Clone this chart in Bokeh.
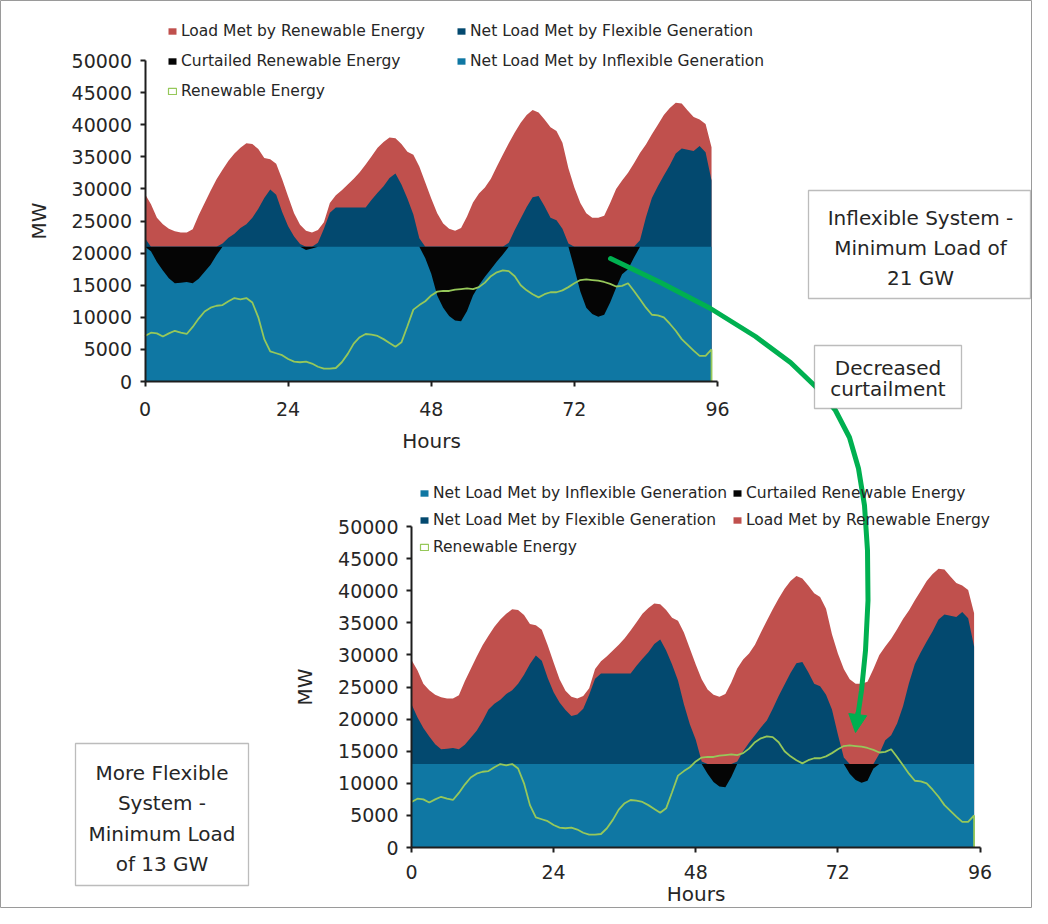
import numpy as np
from bokeh.plotting import figure
from bokeh.models import (Range1d, LinearAxis, FixedTicker, NumeralTickFormatter, Legend,
                          LegendItem, Label, BoxAnnotation, Arrow, NormalHead, ColumnDataSource)
from bokeh.embed import file_html
from bokeh.resources import INLINE

# ---------------- data ----------------
hours = list(range(96))
load_mw = [29200, 27600, 25500, 24500, 23800, 23400, 23200, 23200, 23700, 25900,
           27800, 29700, 31500, 33000, 34400, 35500, 36400, 37100, 37000, 36200,
           34800, 34600, 33900, 31500, 28800, 26200, 24400, 23500, 23200, 23600,
           24800, 27800, 29000, 29800, 30700, 31600, 32600, 33800, 35100, 36400,
           37300, 38000, 37900, 37000, 35800, 35300, 33500, 31000, 28500, 26200,
           24600, 23800, 23500, 23900, 25700, 27900, 29300, 30200, 31600, 33500,
           35300, 37100, 38800, 40300, 41500, 42300, 41900, 40800, 39600, 39000,
           37200, 33200, 30200, 27800, 26200, 25500, 25500, 25800, 27800, 30000,
           31300, 32500, 34000, 35600, 36900, 38500, 40000, 41500, 42600, 43400,
           43300, 42200, 41200, 40800, 40100, 36500]
net_load_mw = [22300, 20300, 18600, 17300, 16100, 15300, 15400, 15500, 15300, 16000,
               17100, 18200, 19700, 21500, 22400, 23000, 23900, 24500, 25500, 26900,
               28600, 29900, 29100, 26400, 24200, 22600, 21400, 20500, 20700, 21600,
               23800, 26300, 27100, 27100, 27100, 27100, 27100, 27100, 28300, 29400,
               30400, 31700, 32400, 30700, 28500, 26000, 22300, 19200, 16800, 13400,
               11500, 10200, 9500, 9400, 11000, 13400, 15000, 16300, 17500, 18700,
               19800, 21600, 23600, 25400, 27200, 28700, 28900, 27300, 25500, 25100,
               23800, 21500, 17600, 14000, 11500, 10500, 10100, 10400, 12300, 14600,
               16700, 17500, 19300, 22000, 25600, 28600, 30400, 32100, 33700, 35500,
               36300, 36100, 35900, 36700, 35700, 31300]
renewable_mw = [7100, 7600, 7500, 7000, 7500, 7900, 7600, 7400, 8500, 9800,
                10900, 11500, 11800, 11900, 12500, 13000, 12800, 13000, 12300, 10000,
                6600, 4700, 4400, 4100, 3500, 3100, 3000, 3100, 2800, 2300,
                2000, 2000, 2100, 3000, 4300, 5900, 6900, 7400, 7300, 7100,
                6600, 6000, 5400, 6100, 8600, 11200, 11900, 12500, 13400, 14000,
                14100, 14100, 14300, 14400, 14500, 14400, 14700, 15400, 16400, 17000,
                17300, 17200, 16400, 15000, 14200, 13600, 13100, 13600, 13900, 13900,
                14200, 14700, 15300, 15800, 15900, 15800, 15700, 15500, 15200, 14800,
                14900, 15300, 14100, 12800, 11500, 10400, 10300, 10000, 9000, 7900,
                6600, 5700, 4800, 4000, 4000, 5000]
min_load_inflexible = 21000
min_load_flexible = 13000
x_ticks = [0, 24, 48, 72, 96]
y_ticks = list(range(0, 50001, 5000))

# ---------------- styling / layout ----------------
FONT = "DejaVu Sans"
TXT = "#262626"
AXC = "#1e1e1e"
C_RED = "#C0504D"
C_FLEX = "#03496F"
C_INFLEX = "#0F77A3"
C_CURT = "#050505"
C_REN = "#96C85A"
C_ARROW = "#00B050"

W, H = 1032, 908
PX0, PY0 = 0, 0            # screen coordinates of the canvas corner
PX1, PY1 = PX0 + W, PY0 + H

p = figure(width=W, height=H, output_backend="svg", toolbar_location=None,
           x_range=Range1d(PX0, PX1), y_range=Range1d(PY1, PY0),
           x_axis_location=None, y_axis_location=None, title=None,
           min_border=0, min_border_left=0, min_border_right=0,
           min_border_top=0, min_border_bottom=0)
p.outline_line_color = "#9a9a9a"
p.background_fill_color = "white"
p.border_fill_color = "white"
p.xgrid.visible = False
p.ygrid.visible = False


def span(v_a, px_a, v_b, px_b, px_lo, px_hi):
    k = (v_b - v_a) / (px_b - px_a)
    return Range1d(v_a + (px_lo - px_a) * k, v_a + (px_hi - px_a) * k)


charts = {
    "top": dict(x0=144.5, x96=717.0, y0=381.0, y50=60.0, minload=min_load_inflexible,
                xl_standoff=15, xt_standoff=10,
                legend=[("red", 167, 31), ("curt", 167, 61), ("ren", 167, 91),
                        ("flex", 456, 31), ("inflex", 456, 61)]),
    "bot": dict(x0=411.0, x96=979.5, y0=847.0, y50=526.0, minload=min_load_flexible,
                xl_standoff=12, xt_standoff=0,
                legend=[("inflex", 419, 493), ("flex", 419, 520), ("ren", 419, 547),
                        ("curt", 732, 493), ("red", 732, 520)]),
}
labels = {
    "red": "Load Met by Renewable Energy",
    "flex": "Net Load Met by Flexible Generation",
    "curt": "Curtailed Renewable Energy",
    "inflex": "Net Load Met by Inflexible Generation",
    "ren": "Renewable Energy",
}

load = np.array(load_mw, dtype=float)
net = np.array(net_load_mw, dtype=float)
ren = np.array(renewable_mw, dtype=float)

for key, c in charts.items():
    xr, yr = key + "_x", key + "_y"
    p.extra_x_ranges[xr] = span(0, c["x0"], 96, c["x96"], PX0, PX1)
    p.extra_y_ranges[yr] = span(0, c["y0"], 50000, c["y50"], PY1, PY0)
    m = c["minload"]
    src = ColumnDataSource(dict(
        h=hours,
        zero=np.zeros(len(hours)),
        load=load,
        flex_top=np.maximum(net, m),
        minl=np.full(len(hours), float(m)),
        curt_bot=np.minimum(net, m),
    ))
    kw = dict(source=src, x_range_name=xr, y_range_name=yr)
    r_red = p.varea(x="h", y1="zero", y2="load", fill_color=C_RED, **kw)
    r_flex = p.varea(x="h", y1="zero", y2="flex_top", fill_color=C_FLEX, **kw)
    r_inflex = p.varea(x="h", y1="zero", y2="minl", fill_color=C_INFLEX, **kw)
    r_curt = p.varea(x="h", y1="curt_bot", y2="minl", fill_color=C_CURT, **kw)
    ren_src = ColumnDataSource(dict(h=hours + [hours[-1]], r=list(ren) + [0.0]))
    r_ren = p.line(x="h", y="r", source=ren_src, x_range_name=xr, y_range_name=yr,
                   line_color=C_REN, line_width=1.8)
    # legend key only (hollow square), no visible data
    key_src = ColumnDataSource(dict(l=[np.nan], r=[np.nan], t=[np.nan], b=[np.nan]))
    r_ren_key = p.quad(left="l", right="r", top="t", bottom="b", source=key_src,
                       x_range_name=xr, y_range_name=yr,
                       fill_color="white", line_color=C_REN, line_width=1.2)
    rmap = {"red": r_red, "flex": r_flex, "inflex": r_inflex, "curt": r_curt, "ren": r_ren_key}

    # axes
    xa = LinearAxis(x_range_name=xr, y_range_name=yr, fixed_location=0, bounds=(0, 96),
                    ticker=FixedTicker(ticks=x_ticks), axis_label="Hours")
    ya = LinearAxis(x_range_name=xr, y_range_name=yr, fixed_location=0, bounds=(0, 50000),
                    ticker=FixedTicker(ticks=y_ticks), axis_label="MW",
                    formatter=NumeralTickFormatter(format="0"))
    for ax in (xa, ya):
        ax.axis_line_color = AXC
        ax.axis_line_width = 2
        ax.major_tick_line_color = AXC
        ax.major_tick_line_width = 2
        ax.major_tick_out = 5
        ax.major_tick_in = 0
        ax.minor_tick_out = 0
        ax.minor_tick_in = 0
        ax.major_label_text_font = FONT
        ax.major_label_text_font_size = "19px"
        ax.major_label_text_color = TXT
        ax.axis_label_text_font = FONT
        ax.axis_label_text_font_size = "20px"
        ax.axis_label_text_font_style = "normal"
        ax.axis_label_text_color = TXT
    xa.major_label_standoff = c["xl_standoff"]
    xa.axis_label_standoff = c["xt_standoff"]
    ya.major_label_standoff = 8
    ya.axis_label_standoff = 18
    p.add_layout(xa, "below")
    p.add_layout(ya, "left")

    # legends, one per entry so that they sit where the reference has them
    for name, gx, gy in c["legend"]:
        leg = Legend(items=[LegendItem(label=labels[name], renderers=[rmap[name]])],
                     location=(gx - PX0, PY1 - gy - 9),
                     glyph_width=10, glyph_height=8, label_height=8, label_width=10,
                     label_standoff=4, padding=0, margin=0, spacing=0,
                     border_line_color=None, background_fill_alpha=0,
                     label_text_font=FONT, label_text_font_size="15.5px",
                     label_text_color=TXT)
        p.add_layout(leg, "center")

# ---------------- green arrow ----------------
arrow_x = [610, 660, 710, 755, 790, 815, 835, 849, 858, 864, 867, 867.5, 865, 861, 857.5]
arrow_y = [258, 282, 308, 336, 362, 386, 410, 437, 468, 505, 550, 600, 650, 690, 714]
p.line(arrow_x, arrow_y, line_color=C_ARROW, line_width=5, line_cap="round",
       line_join="round", level="overlay")
p.add_layout(Arrow(end=NormalHead(size=18, fill_color=C_ARROW, line_color=C_ARROW, line_width=1),
                   x_start=857.5, y_start=712, x_end=855, y_end=732,
                   line_color=C_ARROW, line_width=5, level="overlay"))

# ---------------- text boxes ----------------
boxes = [
    dict(l=808, r=1030, t=190, b=298, cx=920,
         lines=[("Inflexible System -", 217), ("Minimum Load of", 247), ("21 GW", 277)]),
    dict(l=814, r=961, t=345, b=408, cx=887.5,
         lines=[("Decreased", 367), ("curtailment", 388.5)]),
    dict(l=75, r=248, t=743, b=885, cx=161.5,
         lines=[("More Flexible", 772), ("System -", 802.5), ("Minimum Load", 833), ("of 13 GW", 863.5)]),
]
for b in boxes:
    p.add_layout(BoxAnnotation(left=b["l"], right=b["r"], top=b["t"], bottom=b["b"],
                               fill_color="white", fill_alpha=1.0, line_color="#222222",
                               line_width=1.3, level="overlay"))
    for text, y in b["lines"]:
        p.add_layout(Label(x=b["cx"], y=y, text=text, text_align="center",
                           text_baseline="middle", text_font=FONT, text_font_size="20px",
                           text_color=TXT, level="overlay"))

open("out.html", "w").write(file_html(p, INLINE))
